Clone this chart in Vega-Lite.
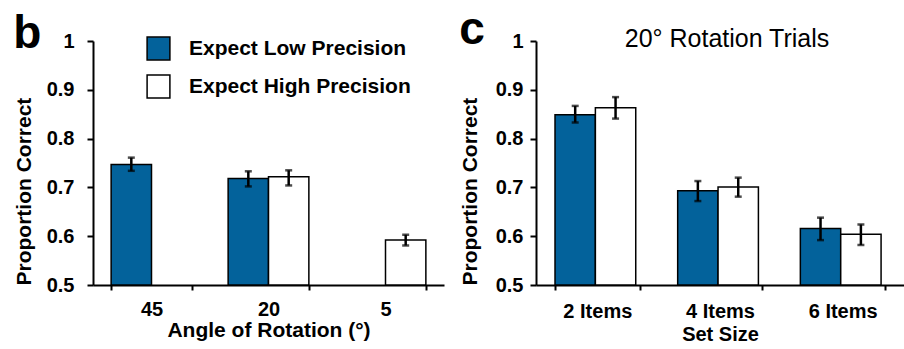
{
  "$schema": "https://vega.github.io/schema/vega-lite/v6.json",
  "background": "white",
  "padding": {"left": 13, "top": 7, "right": 0, "bottom": 0},
  "config": {
    "font": "Liberation Sans",
    "view": {"stroke": null},
    "axis": {
      "domainColor": "black", "domainWidth": 2, "tickColor": "black", "tickWidth": 2,
      "labelColor": "black", "titleColor": "black", "labelFont": "Liberation Sans", "titleFont": "Liberation Sans",
      "labelFontWeight": "bold", "titleFontWeight": "bold", "grid": false
    },
    "title": {"font": "Liberation Sans", "fontSize": 46, "fontWeight": "bold", "anchor": "start", "frame": "bounds", "color": "black", "baseline": "alphabetic", "offset": -27},
    "concat": {"spacing": 15}
  },
  "datasets": {
    "rot": [
      {"angle": "45", "condition": "Expect Low Precision", "value": 0.747, "lo": 0.734, "hi": 0.761},
      {"angle": "20", "condition": "Expect Low Precision", "value": 0.718, "lo": 0.702, "hi": 0.733},
      {"angle": "20", "condition": "Expect High Precision", "value": 0.722, "lo": 0.704, "hi": 0.735},
      {"angle": "5", "condition": "Expect High Precision", "value": 0.592, "lo": 0.581, "hi": 0.603}
    ],
    "setsize": [
      {"size": "2 Items", "condition": "Expect Low Precision", "value": 0.849, "lo": 0.833, "hi": 0.867},
      {"size": "2 Items", "condition": "Expect High Precision", "value": 0.863, "lo": 0.841, "hi": 0.885},
      {"size": "4 Items", "condition": "Expect Low Precision", "value": 0.693, "lo": 0.672, "hi": 0.713},
      {"size": "4 Items", "condition": "Expect High Precision", "value": 0.701, "lo": 0.681, "hi": 0.720},
      {"size": "6 Items", "condition": "Expect Low Precision", "value": 0.616, "lo": 0.592, "hi": 0.638},
      {"size": "6 Items", "condition": "Expect High Precision", "value": 0.604, "lo": 0.582, "hi": 0.624}
    ],
    "caption": [
      {"size": "4 Items", "y": 1, "text": "20° Rotation Trials"}
    ]
  },
  "resolve": {"scale": {"fill": "independent"}, "legend": {"fill": "independent"}},
  "hconcat": [
    {
      "width": 351,
      "height": 244,
      "title": {"text": "b"},
      "data": {"name": "rot"},
      "encoding": {
        "x": {
          "field": "angle", "type": "nominal", "sort": ["45", "20", "5"],
          "scale": {"paddingInner": 0.31, "paddingOuter": 0.155},
          "axis": {"tickBand": "extent", "labelAngle": 0, "labelFontSize": 20, "tickSize": 5, "labelPadding": 9, "titleFontSize": 21, "titlePadding": 0, "title": "Angle of Rotation (°)"}
        },
        "xOffset": {"field": "condition", "type": "nominal", "scale": {"domain": ["Expect Low Precision", "Expect High Precision"]}}
      },
      "layer": [
        {
          "mark": {"type": "bar", "stroke": "black", "strokeWidth": 1.5},
          "encoding": {
            "y": {
              "field": "value", "type": "quantitative",
              "scale": {"domain": [0.5, 1], "zero": false, "nice": false},
              "axis": {"values": [0.5, 0.6, 0.7, 0.8, 0.9, 1], "format": ".1~f", "labelFontSize": 20, "tickSize": 6, "labelPadding": 13, "title": "Proportion Correct", "titleFontSize": 21, "titlePadding": 12, "titleAnchor": "start"}
            },
            "y2": {"datum": 0.5},
            "fill": {
              "field": "condition", "type": "nominal",
              "scale": {"domain": ["Expect Low Precision", "Expect High Precision"], "range": ["#03629b", "#ffffff"]},
              "legend": {
                "orient": "none", "legendX": 53, "legendY": -5, "title": null, "padding": 0,
                "symbolType": "square", "symbolSize": 520, "symbolStrokeColor": "black", "symbolStrokeWidth": 1.5, "symbolOpacity": 1,
                "labelFontSize": 21, "labelFontWeight": "bold", "labelColor": "black", "labelOffset": 18, "rowPadding": 9, "labelLimit": 0
              }
            }
          }
        },
        {
          "mark": {"type": "rule", "strokeWidth": 2.5, "color": "black"},
          "encoding": {"y": {"field": "lo", "type": "quantitative"}, "y2": {"field": "hi"}}
        },
        {
          "mark": {"type": "tick", "thickness": 2.5, "size": 7, "color": "black"},
          "encoding": {"y": {"field": "lo", "type": "quantitative"}}
        },
        {
          "mark": {"type": "tick", "thickness": 2.5, "size": 7, "color": "black"},
          "encoding": {"y": {"field": "hi", "type": "quantitative"}}
        }
      ]
    },
    {
      "width": 368,
      "height": 244,
      "title": {"text": "c"},
      "layer": [
        {
          "data": {"name": "setsize"},
          "mark": {"type": "bar", "stroke": "black", "strokeWidth": 1.5},
          "encoding": {
            "x": {
              "field": "size", "type": "nominal", "sort": ["2 Items", "4 Items", "6 Items"],
              "scale": {"paddingInner": 0.31, "paddingOuter": 0.155},
              "axis": {"tickBand": "extent", "labelAngle": 0, "labelFontSize": 20, "tickSize": 5, "labelPadding": 11, "titleFontSize": 20, "titlePadding": 3, "title": "Set Size"}
            },
            "xOffset": {"field": "condition", "type": "nominal", "scale": {"domain": ["Expect Low Precision", "Expect High Precision"]}},
            "y": {
              "field": "value", "type": "quantitative",
              "scale": {"domain": [0.5, 1], "zero": false, "nice": false},
              "axis": {"values": [0.5, 0.6, 0.7, 0.8, 0.9, 1], "format": ".1~f", "labelFontSize": 20, "tickSize": 6, "labelPadding": 7, "title": "Proportion Correct", "titleFontSize": 21, "titlePadding": 15, "titleAnchor": "start"}
            },
            "y2": {"datum": 0.5},
            "fill": {
              "field": "condition", "type": "nominal",
              "scale": {"domain": ["Expect Low Precision", "Expect High Precision"], "range": ["#03629b", "#ffffff"]},
              "legend": null
            }
          }
        },
        {
          "data": {"name": "setsize"},
          "mark": {"type": "rule", "strokeWidth": 2.5, "color": "black"},
          "encoding": {
            "x": {"field": "size", "type": "nominal", "sort": ["2 Items", "4 Items", "6 Items"]},
            "xOffset": {"field": "condition", "type": "nominal", "scale": {"domain": ["Expect Low Precision", "Expect High Precision"]}},
            "y": {"field": "lo", "type": "quantitative"}, "y2": {"field": "hi"}
          }
        },
        {
          "data": {"name": "setsize"},
          "mark": {"type": "tick", "thickness": 2.5, "size": 7, "color": "black"},
          "encoding": {
            "x": {"field": "size", "type": "nominal", "sort": ["2 Items", "4 Items", "6 Items"]},
            "xOffset": {"field": "condition", "type": "nominal", "scale": {"domain": ["Expect Low Precision", "Expect High Precision"]}},
            "y": {"field": "lo", "type": "quantitative"}
          }
        },
        {
          "data": {"name": "setsize"},
          "mark": {"type": "tick", "thickness": 2.5, "size": 7, "color": "black"},
          "encoding": {
            "x": {"field": "size", "type": "nominal", "sort": ["2 Items", "4 Items", "6 Items"]},
            "xOffset": {"field": "condition", "type": "nominal", "scale": {"domain": ["Expect Low Precision", "Expect High Precision"]}},
            "y": {"field": "hi", "type": "quantitative"}
          }
        },
        {
          "data": {"name": "caption"},
          "mark": {"type": "text", "fontSize": 25, "fontWeight": "normal", "font": "Liberation Sans", "baseline": "middle", "dx": 7, "dy": -2, "color": "black"},
          "encoding": {
            "x": {"field": "size", "type": "nominal", "sort": ["2 Items", "4 Items", "6 Items"]},
            "y": {"field": "y", "type": "quantitative"},
            "text": {"field": "text"}
          }
        }
      ]
    }
  ]
}
